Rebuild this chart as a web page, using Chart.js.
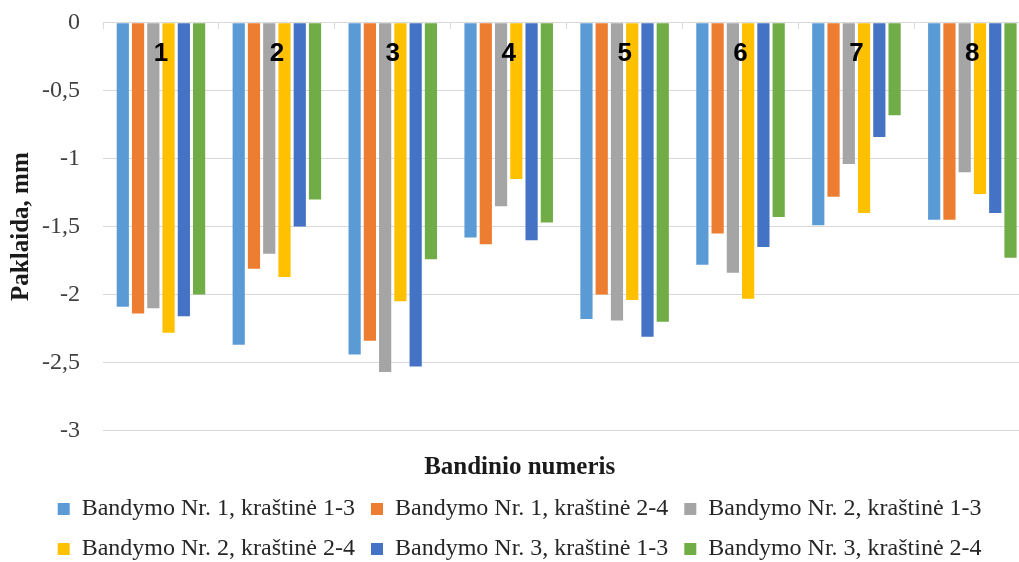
<!DOCTYPE html>
<html lang="lt">
<head>
<meta charset="utf-8">
<title>Paklaida pagal bandinį</title>
<script src="https://cdn.jsdelivr.net/npm/chart.js@4"></script>
<style>
  html, body { margin: 0; padding: 0; background: #fff; overflow: hidden; }
  #wrap { width: 1040px; height: 571px; position: relative; }
</style>
</head>
<body>
<div id="wrap"><canvas id="grafikas"></canvas></div>
<script>
// bandinių numeriai (x ašis)
const bandiniai = ["1", "2", "3", "4", "5", "6", "7", "8"];

// paklaidos, mm
const b1k13 = [-2.09, -2.37, -2.44, -1.58, -2.18, -1.78, -1.49, -1.45];
const b1k24 = [-2.14, -1.81, -2.34, -1.63, -2.00, -1.55, -1.28, -1.45];
const b2k13 = [-2.10, -1.70, -2.57, -1.35, -2.19, -1.84, -1.04, -1.10];
const b2k24 = [-2.28, -1.87, -2.05, -1.15, -2.04, -2.03, -1.40, -1.26];
const b3k13 = [-2.16, -1.50, -2.53, -1.60, -2.31, -1.65, -0.84, -1.40];
const b3k24 = [-2.00, -1.30, -1.74, -1.47, -2.20, -1.43, -0.68, -1.73];

const serijos = [
  "Bandymo Nr. 1, kraštinė 1-3",
  "Bandymo Nr. 1, kraštinė 2-4",
  "Bandymo Nr. 2, kraštinė 1-3",
  "Bandymo Nr. 2, kraštinė 2-4",
  "Bandymo Nr. 3, kraštinė 1-3",
  "Bandymo Nr. 3, kraštinė 2-4"
];

// y ašies ribos ir žingsnis
const yMin = -3;
const yMax = 0;
const yStep = 0.5;

const spalvos = ["#5B9BD5", "#ED7D31", "#A5A5A5", "#FFC000", "#4472C4", "#70AD47"];
const tinklas = "#d9d9d9";
const serif = "'Liberation Serif', 'Times New Roman', serif";

const duomenys = [b1k13, b1k24, b2k13, b2k24, b3k13, b3k24];

new Chart(document.getElementById("grafikas"), {
  type: "bar",
  data: {
    labels: bandiniai,
    datasets: duomenys.map((d, i) => ({
      label: serijos[i],
      data: d,
      backgroundColor: spalvos[i],
      borderWidth: 0,
      barPercentage: 0.8,
      categoryPercentage: 0.79
    }))
  },
  options: {
    responsive: true,
    maintainAspectRatio: false,
    animation: false,
    layout: { padding: { left: 9, right: 9.7, top: 22.7, bottom: 0 } },
    plugins: {
      tooltip: { enabled: false },
      title: {
        display: true,
        text: "Bandinio numeris",
        position: "bottom",
        weight: 900,
        color: "#1a1a1a",
        font: { family: serif, size: 25, weight: "bold", lineHeight: 1.1 },
        padding: { top: 23, bottom: 0 }
      },
      legend: {
        position: "bottom",
        labels: {
          color: "#262626",
          font: { family: serif, size: 24 },
          boxWidth: 12,
          boxHeight: 12,
          padding: 16
        }
      }
    },
    scales: {
      x: {
        // ašis eina per nulį, numeriai po ja virš stulpelių
        position: { y: 0 },
        grid: {
          display: true,
          drawOnChartArea: false,
          drawTicks: true,
          tickLength: 6,
          color: tinklas
        },
        border: { display: true, color: tinklas },
        ticks: {
          z: 1,
          color: "#000",
          padding: 10,
          font: { family: "'Liberation Sans', Arial, sans-serif", size: 26, weight: "bold" }
        }
      },
      y: {
        min: yMin,
        max: yMax,
        afterFit: s => { s.width = 94; },
        // nematomos žymos atitraukia skaičius nuo tinklelio
        grid: { color: tinklas, drawTicks: true, tickLength: 20, tickColor: "transparent" },
        border: { display: false },
        ticks: {
          stepSize: yStep,
          padding: 3,
          color: "#404040",
          font: { family: serif, size: 24 },
          callback: v => String(v).replace(".", ",")
        },
        title: {
          display: true,
          text: "Paklaida, mm",
          color: "#1a1a1a",
          padding: 0,
          font: { family: serif, size: 25, weight: "bold", lineHeight: 1 }
        }
      }
    }
  }
});
</script>
</body>
</html>
